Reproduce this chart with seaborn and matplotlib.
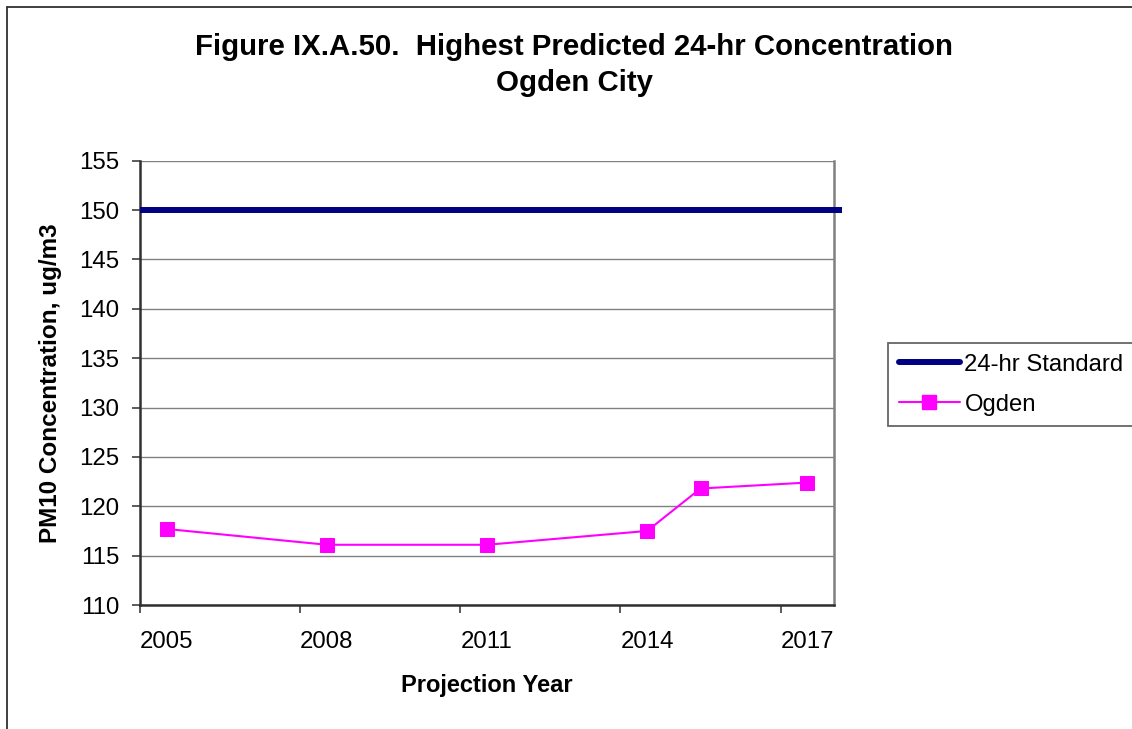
import matplotlib
matplotlib.use("Agg")
import matplotlib.pyplot as plt
from matplotlib.lines import Line2D
import seaborn as sns
import pandas as pd

# Projected highest 24-hr PM10 concentrations for Ogden
years = [2005, 2008, 2011, 2014, 2015, 2017]
ogden = [117.7, 116.1, 116.1, 117.5, 121.8, 122.4]
standard = 150
tick_years = [2005, 2008, 2011, 2014, 2017]
y_ticks = [110, 115, 120, 125, 130, 135, 140, 145, 150, 155]

title_text = "Figure IX.A.50.  Highest Predicted 24-hr Concentration\nOgden City"
x_label = "Projection Year"
y_label = "PM10 Concentration, ug/m3"
standard_label = "24-hr Standard"
series_label = "Ogden"

sns.set_style("white")
plt.rcParams["font.family"] = ["Liberation Sans", "DejaVu Sans"]
plt.rcParams["text.color"] = "black"
plt.rcParams["axes.labelcolor"] = "black"
plt.rcParams["xtick.color"] = "black"
plt.rcParams["ytick.color"] = "black"

df = pd.DataFrame({"year": years, "conc": ogden})

W, H = 1132, 729
fig = plt.figure(figsize=(W / 100, H / 100), dpi=100)
ax = fig.add_axes([140 / W, 1 - 605 / H, (834 - 140) / W, (605 - 160.7) / H])

# horizontal gridlines
for v in y_ticks:
    ax.axhline(v, color="#808080", lw=1.0, zorder=0)

ax.axhline(standard, xmin=0, xmax=(842 - 140) / (834 - 140),
           color="#000080", lw=4.3, clip_on=False, zorder=3,
           solid_capstyle="butt")

sns.lineplot(data=df, x="year", y="conc", ax=ax, color="#FF00FF", lw=1.5,
             marker="s", markersize=9.5, markeredgecolor="#FF00FF",
             legend=False, zorder=4)

ax.set_xlim(tick_years[0] - 0.5, tick_years[-1] + 0.5)
ax.set_ylim(y_ticks[0], y_ticks[-1])

# category boundaries carry tick marks, centres carry labels
ax.set_xticks([y - 0.5 for y in tick_years])
ax.set_xticklabels([])
ax.set_xticks(tick_years, minor=True)
ax.set_xticklabels([str(y) for y in tick_years], minor=True, fontsize=17.3)
ax.tick_params(axis="x", which="major", direction="out", length=6, width=1.2,
               color="#404040", bottom=True)
ax.tick_params(axis="x", which="minor", length=0, pad=19)

ax.set_yticks(y_ticks)
ax.set_yticklabels([str(v) for v in y_ticks], fontsize=17.3)
ax.tick_params(axis="y", direction="out", length=6, width=1.2, color="#404040",
               left=True, pad=9)

for side in ["left", "bottom"]:
    ax.spines[side].set_color("#303030")
    ax.spines[side].set_linewidth(1.8)
ax.spines["right"].set_color("#808080")
ax.spines["right"].set_linewidth(1.8)
ax.spines["top"].set_visible(False)

ax.set_xlabel(x_label, fontsize=17, fontweight="bold", labelpad=15)
ax.set_ylabel(y_label, fontsize=17.5, fontweight="bold", labelpad=12)

fig.text(574 / W, 1 - 65 / H, title_text, ha="center", va="center",
         fontsize=21.2, fontweight="bold", linespacing=1.36)

handles = [Line2D([], [], color="#000080", lw=4.3),
           Line2D([], [], color="#FF00FF", lw=1.5, marker="s", markersize=9.5)]
leg = fig.legend(handles, [standard_label, series_label],
                 loc="upper left", bbox_to_anchor=(888 / W, 1 - 343 / H),
                 frameon=True, fancybox=False, fontsize=17.2,
                 handlelength=2.55, handletextpad=0.2, borderpad=0.45,
                 labelspacing=0.75, borderaxespad=0)
leg.get_frame().set_edgecolor("#404040")
leg.get_frame().set_linewidth(1.3)

# outer chart border (top and left edges)
fig.add_artist(Line2D([7 / W, 1.0], [1 - 7 / H, 1 - 7 / H], color="#303030",
                      lw=1.3, transform=fig.transFigure))
fig.add_artist(Line2D([7 / W, 7 / W], [0.0, 1 - 7 / H], color="#303030",
                      lw=1.3, transform=fig.transFigure))

fig.savefig("out.png", dpi=100)
